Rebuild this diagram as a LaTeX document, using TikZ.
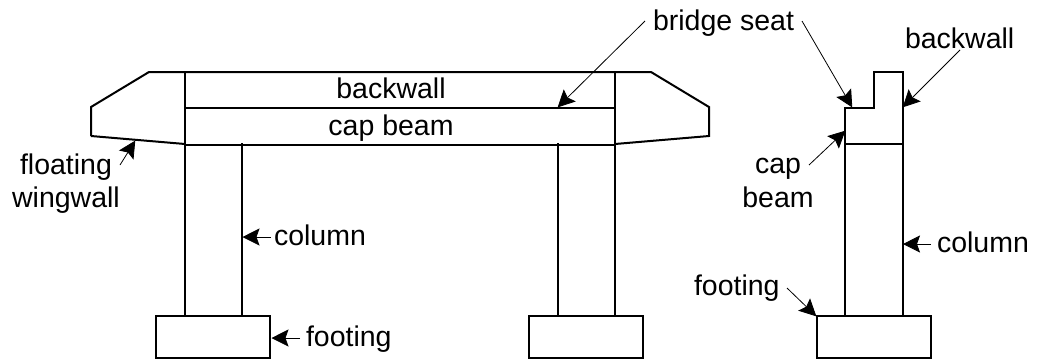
\documentclass[tikz,border=0pt]{standalone}
\usepackage{fontspec}
\setmainfont{Liberation Sans}
\usetikzlibrary{arrows.meta}
\tikzset{
  x=1pt,y=-1pt,
  struct/.style={draw=black,line width=2pt,line join=miter,line cap=butt},
  callout/.style={draw=black,line width=0.8pt,-{Stealth[length=17pt,width=17pt,inset=3pt]},shorten >=-0.5pt},
  lab/.style={font=\fontsize{28.5}{28.5}\selectfont,inner sep=0pt,outer sep=0pt,text=black,anchor=base},
  labl/.style={lab,anchor=base west}
}
\begin{document}
\begin{tikzpicture}
\useasboundingbox (0,0) rectangle (1039,360);
% bent elevation
\draw[struct] (91,136) -- (91,107) -- (149,72) -- (651,72) -- (709,107) -- (709,136) -- (615,144);
\draw[struct] (91,136) -- (185,144);
\draw[struct] (185,72) -- (185,316);
\draw[struct] (615,72) -- (615,316);
\draw[struct] (185,108) -- (615,108);
\draw[struct] (185,145) -- (615,145);
\draw[struct] (242,143) -- (242,316);
\draw[struct] (558,143) -- (558,316);
\draw[struct] (156,316) rectangle (270,358);
\draw[struct] (529,316) rectangle (643,358);
% side elevation
\draw[struct] (845,144) -- (845,108) -- (874,108) -- (874,72) -- (903,72) -- (903,144);
\draw[struct] (845,144) -- (845,316);
\draw[struct] (903,144) -- (903,316);
\draw[struct] (845,144) -- (903,144);
\draw[struct] (817,316) rectangle (931,358);
% labels
\node[lab] (tback) at (391,98) {backwall};
\node[lab] (tcap) at (391,135) {cap beam};
\node[lab] (tfl) at (66,174) {floating};
\node[lab] (twing) at (66,207) {wingwall};
\node[labl] (tcol) at (274,245) {column};
\node[labl] (tfoot) at (306,346) {footing};
\node[labl] (tseat) at (653,30) {bridge seat};
\node[labl] (tbackr) at (905,48) {backwall};
\node[lab] (tcapr) at (778,173) {cap};
\node[lab] (tbeamr) at (778,207) {beam};
\node[labl] (tcolr) at (937,252) {column};
\node[labl] (tfootr) at (694,295) {footing};
% callout ends
\coordinate (a1) at (645,21); \coordinate (b1) at (558,107);
\coordinate (a2) at (802,21); \coordinate (b2) at (852,107);
\coordinate (a3) at (960,50); \coordinate (b3) at (903,107);
\coordinate (a4) at (809,165); \coordinate (b4) at (845,131);
\coordinate (a5) at (120,165); \coordinate (b5) at (135,141);
\coordinate (a6) at (271,237); \coordinate (b6) at (243,237);
\coordinate (a7) at (300,338); \coordinate (b7) at (272,338);
\coordinate (a8) at (931,244); \coordinate (b8) at (903.5,244);
\coordinate (a9) at (787,288); \coordinate (b9) at (816,316);
\foreach \i in {1,...,9} \draw[callout] (a\i) -- (b\i);
\end{tikzpicture}
\end{document}
